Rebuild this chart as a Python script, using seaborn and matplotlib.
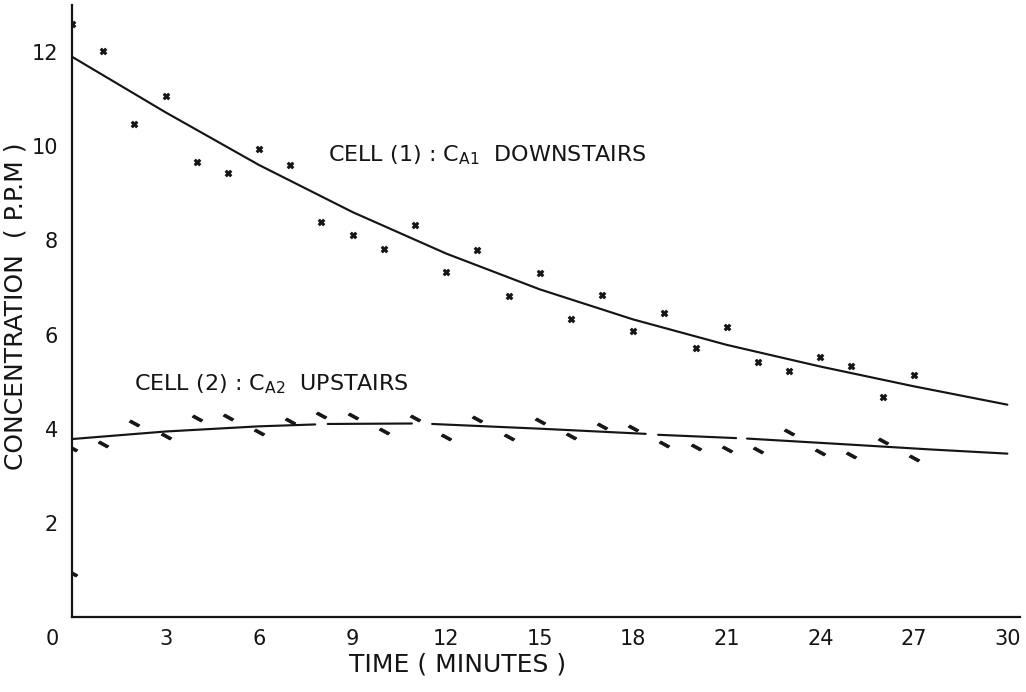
import matplotlib
matplotlib.use("Agg")
import matplotlib.pyplot as plt
from matplotlib.path import Path
from matplotlib import font_manager
import pandas as pd
import seaborn as sns

# Measured concentrations in cell 1 (downstairs), one reading per minute
cell1_time = [0, 1, 2, 3, 4, 5, 6, 7, 8, 9, 10, 11, 12, 13,
              14, 15, 16, 17, 18, 19, 20, 21, 22, 23, 24, 25, 26, 27]
cell1_conc = [12.6, 12.03, 10.47, 11.07, 9.67, 9.43, 9.94, 9.60, 8.40, 8.12,
              7.82, 8.33, 7.33, 7.80, 6.82, 7.30, 6.33, 6.84, 6.07, 6.45,
              5.71, 6.16, 5.42, 5.23, 5.53, 5.33, 4.67, 5.15]

# Measured concentrations in cell 2 (upstairs)
cell2_time = [0, 0, 1, 2, 3, 4, 5, 6, 7, 8, 9, 10, 11, 12, 13,
              14, 15, 16, 17, 18, 19, 20, 21, 22, 23, 24, 25, 26, 27]
cell2_conc = [0.93, 3.59, 3.68, 4.11, 3.84, 4.23, 4.25, 3.92, 4.16, 4.30,
              4.26, 3.96, 4.23, 3.82, 4.21, 3.82, 4.16, 3.84, 4.06, 4.01,
              3.68, 3.62, 3.57, 3.55, 3.92, 3.51, 3.45, 3.74, 3.38]

# Fitted decay curve for cell 1
fit1_time = [0, 3, 6, 9, 12, 15, 18, 21, 24, 27, 30]
fit1_conc = [11.9, 10.72, 9.60, 8.60, 7.72, 6.96, 6.32, 5.78, 5.32, 4.90, 4.51]

# Fitted curve for cell 2, drawn in broken pieces
fit2_time = [0, 3, 6, 7.8, 8.2, 10.9, 11.55, 15, 18.4, 18.8, 21.3,
             21.65, 25, 27.5, 30]
fit2_conc = [3.78, 3.94, 4.05, 4.09, 4.10, 4.11, 4.10, 4.00, 3.89, 3.87,
             3.80, 3.79, 3.66, 3.56, 3.47]
fit2_piece = [0, 0, 0, 0, 1, 1, 2, 2, 2, 3, 3, 4, 4, 4, 4]

x_ticks = [3, 6, 9, 12, 15, 18, 21, 24, 27, 30]
y_ticks = [2, 4, 6, 8, 10, 12]

label_cell1 = r"CELL (1) : C$_{\mathregular{A1}}$  DOWNSTAIRS"
label_cell2 = r"CELL (2) : C$_{\mathregular{A2}}$  UPSTAIRS"

sns.set_theme(style="white")
plt.rcParams["font.family"] = ["DejaVu Sans"]
plt.rcParams["axes.unicode_minus"] = False

# narrower face for the numerals when available
installed = {f.name for f in font_manager.fontManager.ttflist}
tick_family = "DejaVu Sans Condensed" if "DejaVu Sans Condensed" in installed else "DejaVu Sans"

INK = "#151515"

pts1 = pd.DataFrame({"time": cell1_time, "conc": cell1_conc})
pts2 = pd.DataFrame({"time": cell2_time, "conc": cell2_conc})
curve1 = pd.DataFrame({"time": fit1_time, "conc": fit1_conc})
curve2 = pd.DataFrame({"time": fit2_time, "conc": fit2_conc, "piece": fit2_piece})

fig = plt.figure(figsize=(10.26, 6.92), dpi=100)
ax = fig.add_axes([0.0702, 0.1084, 0.9238, 0.8844])

sns.lineplot(data=curve1, x="time", y="conc", color=INK, lw=1.55, ax=ax)
sns.lineplot(data=curve2, x="time", y="conc", units="piece", estimator=None,
             color=INK, lw=1.55, ax=ax)

sns.scatterplot(data=pts1, x="time", y="conc", marker="X", s=24,
                color=INK, edgecolor=INK, linewidth=0.5, ax=ax, zorder=3)

# short slanted stroke used for the upstairs readings
slash = Path([(-1.0, 0.25), (-0.65, 0.65), (1.0, -0.25), (0.65, -0.65), (-1.0, 0.25)],
             [Path.MOVETO, Path.LINETO, Path.LINETO, Path.LINETO, Path.CLOSEPOLY])
sns.scatterplot(data=pts2, x="time", y="conc", marker=slash, s=60,
                color=INK, edgecolor=INK, linewidth=0.6, ax=ax, zorder=3)

ax.text(8.2, 9.8, label_cell1, fontsize=16, color=INK, va="center", ha="left")
ax.text(2.0, 4.95, label_cell2, fontsize=16, color=INK, va="center", ha="left")

ax.set_xlim(0, 30.4)
ax.set_ylim(0, 13.0)
ax.set_xticks(x_ticks)
ax.set_yticks(y_ticks)
ax.tick_params(axis="both", length=0, labelsize=15, colors=INK)
ax.tick_params(axis="x", pad=9)
ax.tick_params(axis="y", pad=10)
for lab in ax.get_xticklabels() + ax.get_yticklabels():
    lab.set_family(tick_family)
ax.annotate("0", xy=(0, 0), xytext=(-14, -9), textcoords="offset points",
            ha="center", va="top", fontsize=15, color=INK, family=tick_family)

ax.set_xlabel("TIME ( MINUTES )", fontsize=18, color=INK)
ax.set_ylabel("CONCENTRATION  ( P.P.M )", fontsize=18, color=INK)
ax.xaxis.set_label_coords(0.407, -0.058)
ax.yaxis.set_label_coords(-0.047, 0.507)

sns.despine(ax=ax)
for side in ("left", "bottom"):
    ax.spines[side].set_color(INK)
    ax.spines[side].set_linewidth(1.6)

fig.savefig("out.png", dpi=100, facecolor="white")
